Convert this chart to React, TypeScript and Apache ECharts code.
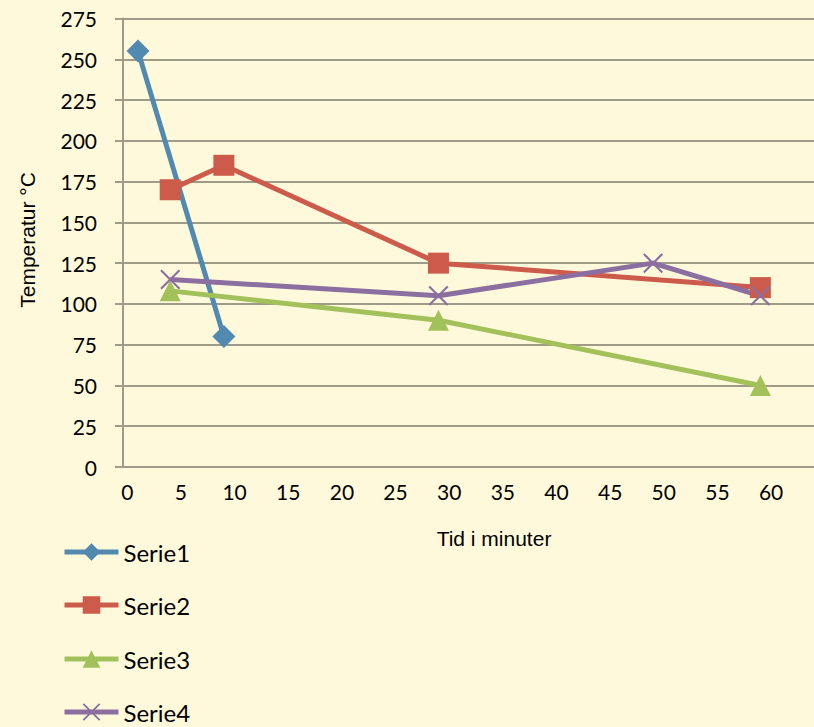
import React, { useEffect, useRef } from "react";
import * as echarts from "echarts";

const xTickLabels = [0, 5, 10, 15, 20, 25, 30, 35, 40, 45, 50, 55, 60];
const serie1: [number, number][] = [[1, 255], [9, 80]];
const serie2: [number, number][] = [[4, 170], [9, 185], [29, 125], [59, 110]];
const serie3: [number, number][] = [[4, 108], [29, 90], [59, 50]];
const serie4: [number, number][] = [[4, 115], [29, 105], [49, 125], [59, 105]];
const seriesNames = ["Serie1", "Serie2", "Serie3", "Serie4"];
const colors = ["#5289B0", "#CC5B4B", "#A3C15A", "#8B6FA0"];
const legendTops = [540, 593, 647, 700];

const X_PATH =
  "path://M1.5,0L10,8.5L18.5,0L20,1.5L11.5,10L20,18.5L18.5,20L10,11.5L1.5,20L0,18.5L8.5,10L0,1.5Z";

export default function App() {
  const ref = useRef<HTMLDivElement>(null);
  useEffect(() => {
    if (!ref.current) return;
    const chart = echarts.init(ref.current, null, { renderer: "svg" });
    const gridColor = "#9E9C88";
    const mk = (name: string, data: [number, number][], color: string, symbol: string, size: number) => ({
      name,
      type: "line",
      data,
      symbol,
      symbolSize: size,
      lineStyle: { width: 5, color },
      itemStyle: { color, borderColor: color, borderWidth: 0 },
      emphasis: { disabled: true },
    });
    chart.setOption({
      animation: false,
      backgroundColor: "#FFF9DB",
      grid: { left: 123, right: 0, top: 18.5, bottom: 260 },
      xAxis: {
        type: "value",
        min: -0.4,
        max: 64,
        axisLine: { show: true, onZero: false, lineStyle: { color: gridColor, width: 2 } },
        axisTick: { show: false },
        splitLine: { show: false },
        axisLabel: {
          customValues: xTickLabels,
          margin: 14,
          fontFamily: "Lato",
          fontSize: 21,
          color: "#000",
        },
      },
      yAxis: {
        type: "value",
        min: 0,
        max: 275,
        interval: 25,
        axisLine: { show: true, onZero: false, lineStyle: { color: gridColor, width: 2 } },
        axisTick: { show: true, length: 8, lineStyle: { color: gridColor, width: 2 } },
        splitLine: { show: true, lineStyle: { color: gridColor, width: 2 } },
        axisLabel: { margin: 26, fontFamily: "Lato", fontSize: 21, color: "#000" },
      },
      legend: seriesNames.map((n, i) => ({
        orient: "vertical",
        left: 62,
        top: legendTops[i],
        padding: 0,
        itemWidth: 54,
        itemHeight: 22,
        itemGap: 0,
        data: [n],
        lineStyle: { width: 5 },
        textStyle: { fontFamily: "Lato", fontSize: 24, lineHeight: 24, color: "#000", padding: [0, 0, 0, 0] },
      })),
      graphic: [
        {
          type: "text",
          x: 27,
          y: 240,
          rotation: Math.PI / 2,
          style: {
            text: "Temperatur °C",
            font: "21px 'Liberation Sans'",
            fill: "#000",
            align: "center",
            verticalAlign: "middle",
          },
        },
        {
          type: "text",
          x: 494,
          y: 538,
          style: {
            text: "Tid i minuter",
            font: "21px 'Liberation Sans'",
            fill: "#000",
            align: "center",
            verticalAlign: "middle",
          },
        },
      ],
      series: [
        mk(seriesNames[0], serie1, colors[0], "diamond", 23),
        mk(seriesNames[1], serie2, colors[1], "rect", 21),
        mk(seriesNames[2], serie3, colors[2], "triangle", 21),
        mk(seriesNames[3], serie4, colors[3], X_PATH, 20),
      ],
    });
    return () => chart.dispose();
  }, []);
  return (
    <div
      ref={ref}
      style={{ position: "fixed", left: 0, top: 0, width: 814, height: 727 }}
    />
  );
}
